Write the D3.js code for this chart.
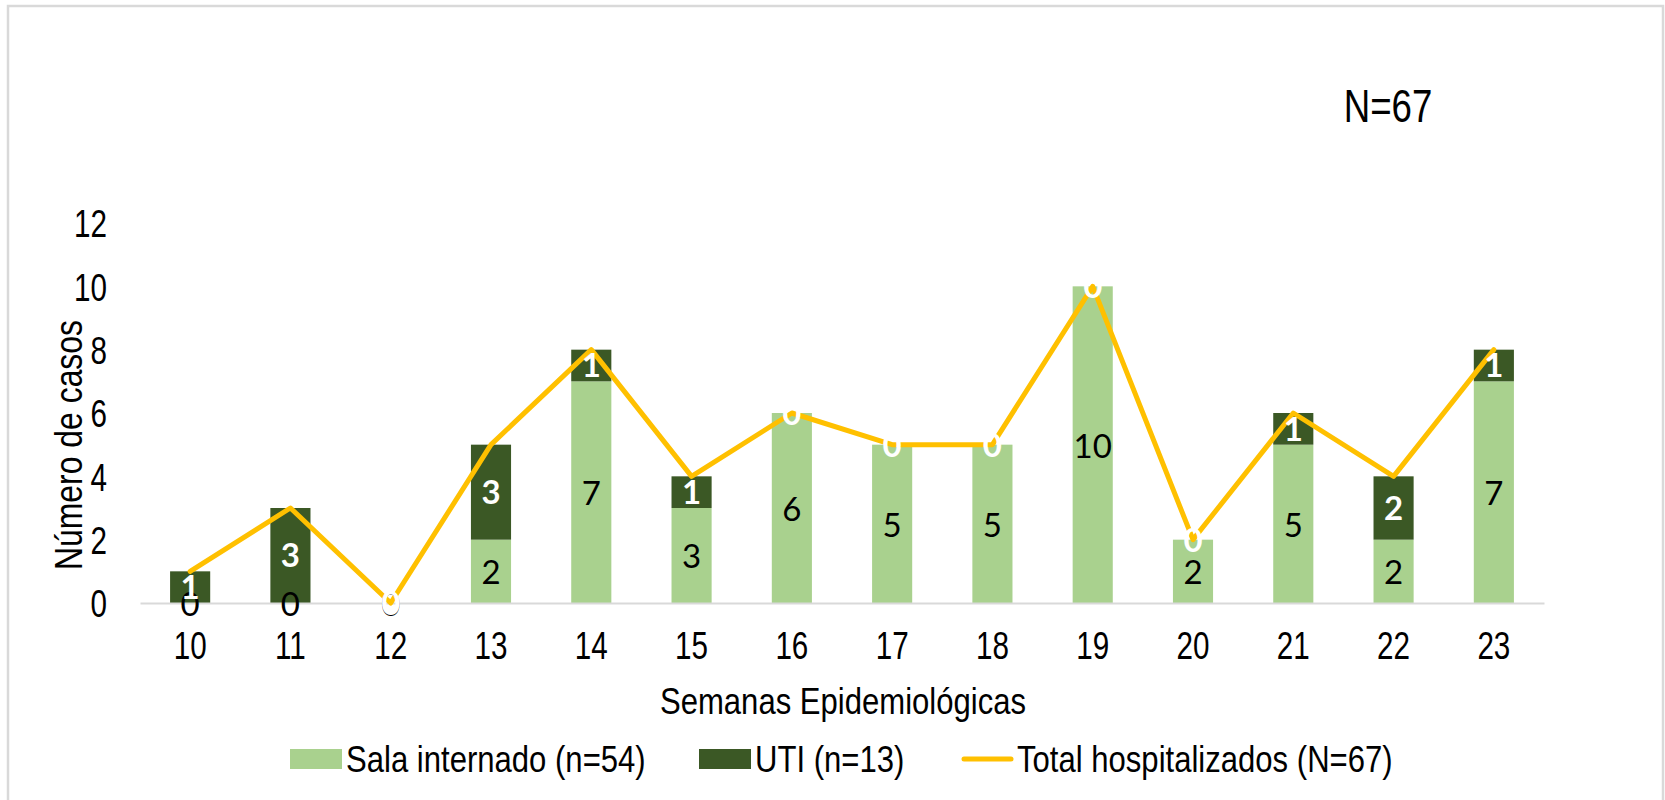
<!DOCTYPE html>
<html>
<head>
<meta charset="utf-8">
<script src="https://cdn.jsdelivr.net/npm/d3@7"></script>
<style>
  body { margin: 0; background: #fff; }
  svg text { font-family: "Liberation Sans", Arial, sans-serif; }
</style>
</head>
<body>
<div id="container"></div>
<script>
/* CONSTANTS AND GLOBALS */
const width = 1665;
const height = 800;
const squeeze = 0.78; // the original text is a narrow face
const squeezeWide = 0.84;

// DATA - epidemiological weeks 10 to 23
const weeks = ["10", "11", "12", "13", "14", "15", "16", "17", "18", "19", "20", "21", "22", "23"];
const sala = [0, 0, 0, 2, 7, 3, 6, 5, 5, 10, 2, 5, 2, 7];
const uti = [1, 3, 0, 3, 1, 1, 0, 0, 0, 0, 0, 1, 2, 1];
const total = [1, 3, 0, 5, 8, 4, 6, 5, 5, 10, 2, 6, 4, 8];
const yTicks = [0, 2, 4, 6, 8, 10, 12];
const seriesNames = ["Sala internado (n=54)", "UTI (n=13)", "Total hospitalizados (N=67)"];

const colors = { sala: "#a9d18e", uti: "#3b5825", total: "#ffc000" };

const rows = weeks.map((w, i) => ({ week: w, sala: sala[i], uti: uti[i], total: total[i] }));

// CREATE SVG
const svg = d3.select("#container")
  .append("svg")
  .attr("width", width)
  .attr("height", height);

// chart frame
svg.append("rect")
  .attr("x", 8)
  .attr("y", 6)
  .attr("width", 1655)
  .attr("height", 900)
  .attr("fill", "none")
  .attr("stroke", "#d9d9d9")
  .attr("stroke-width", 2.5);

/* SCALES */
const xScale = d3.scaleBand()
  .domain(weeks)
  .range([140, 1544])
  .paddingInner(0.6)
  .paddingOuter(0.3);

const yScale = d3.scaleLinear()
  .domain([0, 12])
  .range([603, 223]);

// STACKED BARS
const stack = d3.stack().keys(["sala", "uti"])(rows);

svg.append("g")
  .selectAll("g")
  .data(stack)
  .join("g")
  .attr("fill", d => colors[d.key])
  .selectAll("rect")
  .data(d => d)
  .join("rect")
  .attr("x", d => xScale(d.data.week))
  .attr("y", d => yScale(d[1]))
  .attr("width", xScale.bandwidth())
  .attr("height", d => yScale(d[0]) - yScale(d[1]));

// AXES
const xAxis = d3.axisBottom(xScale).tickSize(0).tickSizeOuter(0).tickPadding(29);
const gx = svg.append("g")
  .attr("transform", "translate(0,603)")
  .call(xAxis);
gx.select(".domain").attr("stroke", "#d9d9d9").attr("stroke-width", 2);
gx.selectAll(".tick text")
  .attr("font-size", 38)
  .attr("fill", "#000")
  .attr("transform", `scale(${squeeze},1)`);

const yAxis = d3.axisLeft(yScale).tickValues(yTicks).tickSize(0).tickPadding(0);
const gy = svg.append("g")
  .attr("transform", "translate(107,0)")
  .call(yAxis);
gy.select(".domain").remove();
gy.selectAll("text")
  .attr("font-size", 38)
  .attr("fill", "#000")
  .attr("dy", "0.36em")
  .attr("transform", `scale(${squeeze},1)`);

// TOTAL LINE
const line = d3.line()
  .x(d => xScale(d.week) + xScale.bandwidth() / 2)
  .y(d => yScale(d.total));

svg.append("path")
  .datum(rows)
  .attr("d", line)
  .attr("fill", "none")
  .attr("stroke", colors.total)
  .attr("stroke-width", 5)
  .attr("stroke-linejoin", "round")
  .attr("stroke-linecap", "round");

// DATA LABELS
const cx = d => xScale(d.week) + xScale.bandwidth() / 2;

svg.append("g")
  .selectAll("text")
  .data(rows)
  .join("text")
  .attr("transform", d => `translate(${cx(d)},${yScale(d.sala / 2) + 1})`)
  .attr("text-anchor", "middle")
  .attr("dy", "0.36em")
  .style("font-family", "Lato, 'Open Sans', sans-serif")
  .style("font-size", "33px")
  .attr("fill", "#000")
  .text(d => d.sala);

svg.append("g")
  .selectAll("text")
  .data(rows)
  .join("text")
  .attr("transform", d => `translate(${cx(d)},${yScale(d.sala + d.uti / 2)})`)
  .attr("text-anchor", "middle")
  .attr("dy", "0.36em")
  .style("font-family", "Lato, 'Open Sans', sans-serif")
  .style("font-size", "33px")
  .style("font-weight", "bold")
  .attr("fill", "#fff")
  .text(d => d.uti);

// LABELS: N, AXIS TITLES
function narrowText(x, y, txt, size, anchor, k, rotate) {
  return svg.append("text")
    .attr("transform", `translate(${x},${y})` + (rotate ? ` rotate(${rotate})` : "") + ` scale(${k},1)`)
    .attr("text-anchor", anchor)
    .attr("font-size", size)
    .attr("fill", "#000")
    .text(txt);
}

narrowText(1388, 122, "N=67", 47, "middle", squeeze);
narrowText(843, 714, "Semanas Epidemiológicas", 37, "middle", squeezeWide);
narrowText(82, 445, "Número de casos", 38, "middle", squeezeWide, -90);

// LEGEND
const legendItems = [
  { name: seriesNames[0], x: 290, type: "rect", color: colors.sala },
  { name: seriesNames[1], x: 699, type: "rect", color: colors.uti },
  { name: seriesNames[2], x: 961, type: "line", color: colors.total }
];

const legend = svg.append("g");
legendItems.forEach(item => {
  if (item.type === "rect") {
    legend.append("rect")
      .attr("x", item.x)
      .attr("y", 749)
      .attr("width", 52)
      .attr("height", 20)
      .attr("fill", item.color);
  } else {
    legend.append("line")
      .attr("x1", item.x + 3)
      .attr("x2", item.x + 50)
      .attr("y1", 759)
      .attr("y2", 759)
      .attr("stroke", item.color)
      .attr("stroke-width", 5)
      .attr("stroke-linecap", "round");
  }
  narrowText(item.x + 56, 772, item.name, 37, "start", squeezeWide);
});
</script>
</body>
</html>
